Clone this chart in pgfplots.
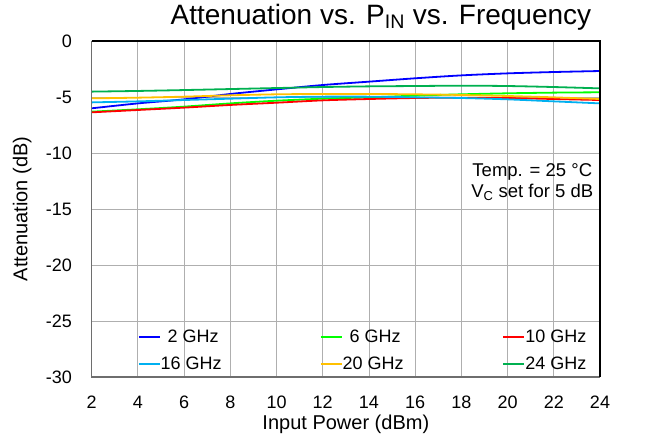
\documentclass[border=0pt]{standalone}
\usepackage{fontspec}
\setmainfont{Liberation Sans}
\usepackage{pgfplots}
\pgfplotsset{compat=1.18}

\definecolor{c2}{RGB}{0,0,255}
\definecolor{c6}{RGB}{0,255,0}
\definecolor{c10}{RGB}{255,0,0}
\definecolor{c16}{RGB}{0,176,240}
\definecolor{c20}{RGB}{255,192,0}
\definecolor{c24}{RGB}{0,176,80}
\definecolor{gridgray}{RGB}{175,175,175}
\definecolor{axgray}{RGB}{110,110,110}

\newcommand{\fs}[1]{\fontsize{#1bp}{#1bp}\selectfont}

\begin{document}
\begin{tikzpicture}
\begin{axis}[
    scale only axis,
    width=508.3bp, height=336bp,
    xmin=2, xmax=24, ymin=-30, ymax=0,
    xtick={2,4,...,24},
    xticklabels={2,4,6,8,10,12,14,16,18,20,22,24},
    ytick={-30,-25,...,0},
    yticklabels={-30,-25,-20,-15,-10,-5,0},
    grid=major,
    major grid style={gridgray, line width=0.9bp},
    tick style={draw=none},
    axis line style={draw=none},
    ticklabel style={font=\fs{18}, inner sep=0pt},
    xticklabel style={anchor=base, yshift=-31bp},
    yticklabel style={anchor=east, xshift=-19.5bp},
    xlabel={Input Power (dBm)},
    ylabel={Attenuation (dB)},
    label style={font=\fs{20}, inner sep=0pt},
    xlabel style={at={(rel axis cs:0.5,0)}, anchor=base, yshift=-52bp},
    ylabel style={at={([xshift=-69.5bp]rel axis cs:0,0.5)}, anchor=center},
    title={Attenuation vs. P\textsubscript{IN} vs. Frequency},
    title style={font=\fs{28}, inner sep=0pt, at={([yshift=11bp]rel axis cs:0.569,1)}, anchor=base},
    clip=false,
    legend columns=3,
    legend cell align=left,
    legend image code/.code={\draw[#1, line width=1.8bp] (0bp,0bp) -- (21bp,0bp);},
    legend style={at={(axis cs:4.0,-25.8)}, anchor=north west, draw=none, fill=none,
        font=\fs{18}, inner sep=0pt, outer sep=0pt, row sep=13bp, column sep=0pt,
        nodes={inner sep=0pt, outer sep=0pt}},
    every axis plot/.append style={line width=1.8bp, smooth},
]
\addplot[c2] coordinates {(2,-6.01) (4,-5.57) (6,-5.21) (8,-4.73) (10,-4.32) (12,-3.93) (14,-3.63) (16,-3.33) (18,-3.07) (20,-2.89) (22,-2.77) (24,-2.68)};
\addlegendentry{\makebox[159bp][l]{\hspace{7bp}2 GHz}}
\addplot[c6] coordinates {(2,-6.31) (4,-6.10) (6,-5.86) (8,-5.57) (10,-5.33) (12,-5.15) (14,-5.03) (16,-4.88) (18,-4.76) (20,-4.67) (22,-4.61) (24,-4.58)};
\addlegendentry{\makebox[160bp][l]{\hspace{7bp}6 GHz}}
\addplot[c10] coordinates {(2,-6.37) (4,-6.16) (6,-5.95) (8,-5.71) (10,-5.51) (12,-5.30) (14,-5.18) (16,-5.09) (18,-5.06) (20,-5.09) (22,-5.18) (24,-5.27)};
\addlegendentry{\makebox[100bp][l]{10 GHz}}
\addplot[c16] coordinates {(2,-5.48) (4,-5.39) (6,-5.27) (8,-5.15) (10,-5.03) (12,-4.97) (14,-4.97) (16,-5.03) (18,-5.09) (20,-5.21) (22,-5.39) (24,-5.57)};
\addlegendentry{\makebox[159bp][l]{16 GHz}}
\addplot[c20] coordinates {(2,-5.12) (4,-5.06) (6,-4.97) (8,-4.85) (10,-4.76) (12,-4.73) (14,-4.73) (16,-4.76) (18,-4.82) (20,-4.91) (22,-5.03) (24,-5.18)};
\addlegendentry{\makebox[160bp][l]{20 GHz}}
\addplot[c24] coordinates {(2,-4.52) (4,-4.46) (6,-4.38) (8,-4.29) (10,-4.20) (12,-4.11) (14,-4.05) (16,-4.02) (18,-3.99) (20,-4.02) (22,-4.11) (24,-4.23)};
\addlegendentry{\makebox[100bp][l]{24 GHz}}
% frame: left and bottom grey, top and right black
\draw[axgray, line width=1.5bp] (rel axis cs:0,1) -- (rel axis cs:0,0) -- (rel axis cs:1,0);
\draw[black, line width=1.5bp] (rel axis cs:0,1) -- (rel axis cs:1,1) -- (rel axis cs:1,0);
\node[font=\fs{18.5}, inner sep=0pt, anchor=base] at (axis cs:21.07,-12.14) {Temp. = 25 °C};
\node[font=\fs{18.5}, inner sep=0pt, anchor=base] at (axis cs:21.07,-13.93) {V\textsubscript{C} set for 5 dB};
\coordinate (sw) at (rel axis cs:0,0);
\coordinate (ne) at (rel axis cs:1,1);
\end{axis}
\pgfresetboundingbox
\path (sw) ++(-91.7bp,-62bp) (ne) ++(47bp,41bp);
\end{tikzpicture}
\end{document}
